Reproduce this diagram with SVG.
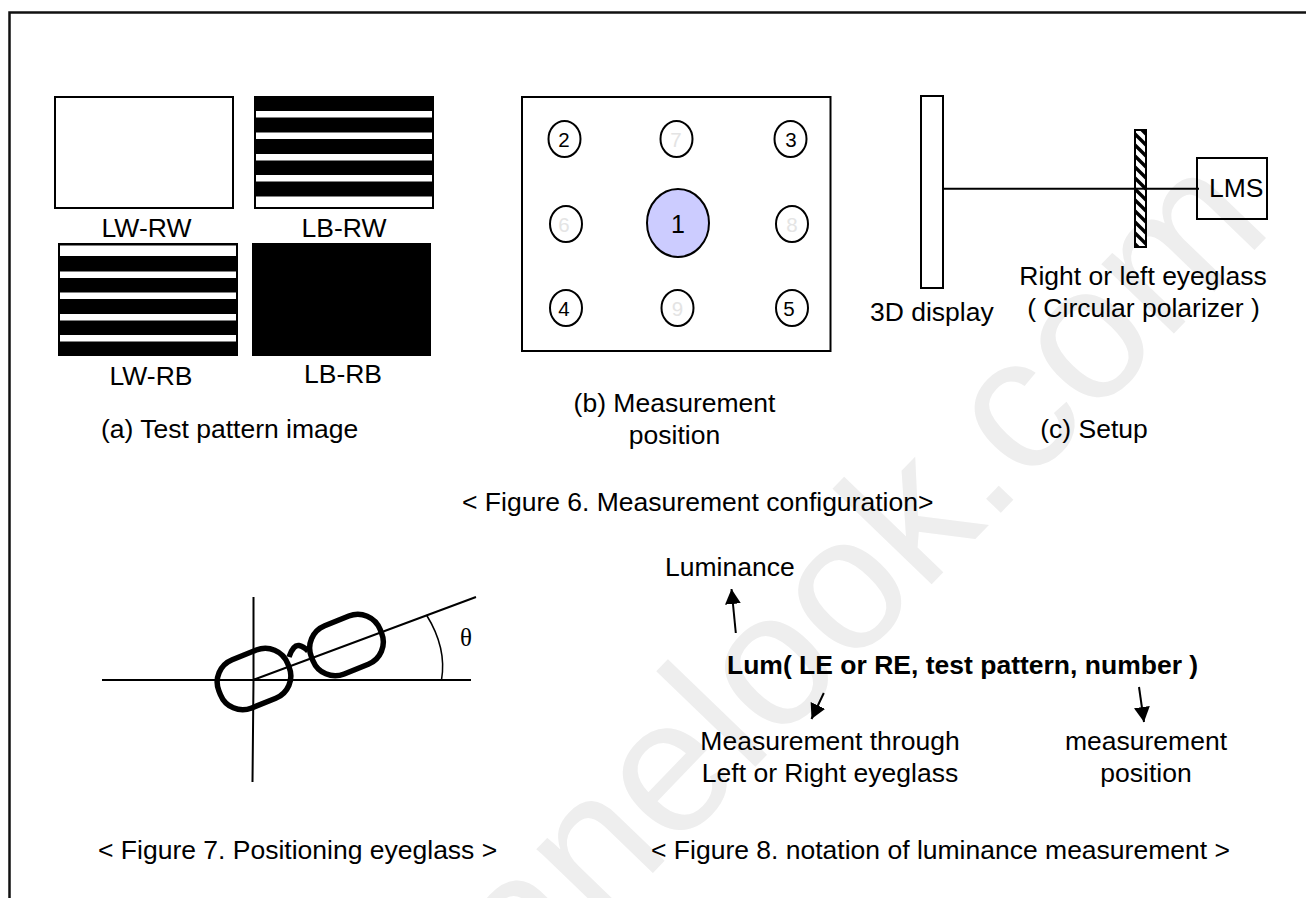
<svg xmlns="http://www.w3.org/2000/svg" width="1306" height="898" viewBox="0 0 1306 898">
<style>
text{font-family:"Liberation Sans",Arial,sans-serif;font-size:26.5px;fill:#000}
.c{text-anchor:middle}
.n{font-size:20.5px}
.ln{fill:none;stroke:#000;stroke-width:2}
.box{fill:none;stroke:#000;stroke-width:2}
.blk{fill:#000;stroke:none}
.wht{fill:#fff;stroke:none}
.dim{fill:#e4e4e4}
.gl{fill:none;stroke:#000;stroke-width:5.5}
.wm{font-size:190px;fill:#eeeeee}
</style>
<defs>
<pattern id="hatch" width="11" height="11" patternUnits="userSpaceOnUse"><rect width="11" height="11" fill="#fff"/><path d="M-2 -2L13 13M-2 9L2 13M9 -2L13 2" stroke="#000" stroke-width="3.4"/></pattern>
<marker id="ah" markerUnits="userSpaceOnUse" markerWidth="16" markerHeight="16" refX="15" refY="8" orient="auto"><path d="M0 0L15 8L0 16Z" fill="#000"/></marker>
</defs>
<rect width="1306" height="898" fill="#fff"/>
<text class="wm" transform="translate(453 1080) rotate(-46)">panelook.com</text>
<path id="frame" fill="none" stroke="#111" stroke-width="2.500" d="M9.500 898V12.500H1306"/>
<g id="lw-rw"><rect class="box" x="55" y="97" width="178" height="111"/><text class="c" x="146.500" y="236.500">LW-RW</text></g>
<g id="lb-rw"><rect class="blk" x="254" y="96" width="180" height="113"/><g class="wht"><rect x="256" y="111" width="176" height="6.500"/><rect x="256" y="132.500" width="176" height="6.500"/><rect x="256" y="154" width="176" height="6.500"/><rect x="256" y="175" width="176" height="6.500"/><rect x="256" y="196.500" width="176" height="10.500"/></g><text class="c" x="344" y="236.500">LB-RW</text></g>
<g id="lw-rb"><rect class="blk" x="58" y="243" width="180" height="113"/><g class="wht"><rect x="60" y="245.500" width="176" height="10.500"/><rect x="60" y="271.500" width="176" height="6.500"/><rect x="60" y="292.500" width="176" height="6.500"/><rect x="60" y="314" width="176" height="6.500"/><rect x="60" y="335" width="176" height="6.500"/></g><text class="c" x="151" y="384.500">LW-RB</text></g>
<g id="lb-rb"><rect class="blk" x="252" y="243" width="179" height="113"/><text class="c" x="343" y="382.500">LB-RB</text></g>
<text id="cap-a" x="101" y="438">(a) Test pattern image</text>
<g id="panel-b"><rect class="box" x="522" y="97" width="308.500" height="254"/></g>
<g id="p2"><ellipse class="box" cx="564.500" cy="139" rx="16" ry="18"/><text class="c n" x="564" y="146.500">2</text></g>
<g id="p7"><ellipse class="box" cx="676.500" cy="139" rx="16" ry="18"/><text class="c n dim" x="676" y="146.500">7</text></g>
<g id="p3"><ellipse class="box" cx="790.500" cy="139" rx="16" ry="18"/><text class="c n" x="791" y="146.500">3</text></g>
<g id="p6"><ellipse class="box" cx="566" cy="224" rx="16" ry="18"/><text class="c n dim" x="564" y="231.500">6</text></g>
<g id="p1"><ellipse cx="678" cy="223" rx="31" ry="34" fill="#ccf" stroke="#000" stroke-width="2"/><text class="c" x="678" y="233" style="font-size:25px">1</text></g>
<g id="p8"><ellipse class="box" cx="792" cy="224" rx="16" ry="18"/><text class="c n dim" x="792" y="231.500">8</text></g>
<g id="p4"><ellipse class="box" cx="566" cy="308" rx="16" ry="18"/><text class="c n" x="564" y="315.500">4</text></g>
<g id="p9"><ellipse class="box" cx="677.500" cy="308" rx="16" ry="18"/><text class="c n dim" x="677.500" y="315.500">9</text></g>
<g id="p5"><ellipse class="box" cx="792" cy="308" rx="16" ry="18"/><text class="c n" x="789" y="315.500">5</text></g>
<text id="cap-b1" class="c" x="674.500" y="412">(b) Measurement</text>
<text id="cap-b2" class="c" x="674.500" y="444">position</text>
<text id="cap-c" class="c" x="1094" y="438">(c) Setup</text>
<g id="display"><rect class="box" x="921" y="96" width="22" height="192"/><text x="870" y="321">3D display</text></g>
<g id="connectors">
<path class="ln" d="M943 188.700H1199"/>
<path class="ln" d="M735.800 633L731.500 589" marker-end="url(#ah)"/>
<path class="ln" d="M823.800 693L811.500 719" marker-end="url(#ah)"/>
<path class="ln" d="M1139 687L1144 722" marker-end="url(#ah)"/>
</g>
<g id="eyeglass"><rect x="1135" y="130" width="11" height="117" fill="url(#hatch)" stroke="#000" stroke-width="2"/><path class="ln" d="M1135 188.700H1146"/><text class="c" x="1143" y="285">Right or left eyeglass</text><text class="c" x="1143.500" y="317">( Circular polarizer )</text></g>
<g id="lms"><rect class="box" x="1197" y="158" width="70" height="61"/><text x="1209" y="197">LMS</text></g>
<text id="cap-6" x="462" y="511">&lt; Figure 6. Measurement configuration&gt;</text>
<g id="fig7">
<path class="ln" d="M102 680H471M253.500 597V680L252.500 782M253 680L476 597"/>
<path d="M426.500 615Q447 648 441.500 680" fill="none" stroke="#000" stroke-width="1.500"/>
<rect class="gl" x="217" y="653" width="74" height="52" rx="24" transform="rotate(-22 254 679)"/>
<rect class="gl" x="309.500" y="619" width="74" height="52" rx="24" transform="rotate(-22 346.500 645)"/>
<path class="gl" d="M289 657C292 648 296 645 299 645.500C302 646 305 648 308 651"/>
<text x="460" y="646" style="font-family:'Liberation Serif',serif;font-size:25px">θ</text>
</g>
<text id="cap-7" x="98" y="859">&lt; Figure 7. Positioning eyeglass &gt;</text>
<text id="lum" x="665" y="576">Luminance</text>
<text id="notation" x="727" y="673.500" style="font-weight:700">Lum( LE or RE, test pattern, number )</text>
<text id="m1" class="c" x="830" y="750">Measurement through</text>
<text id="m2" class="c" x="830" y="782">Left or Right eyeglass</text>
<text id="m3" class="c" x="1146" y="750">measurement</text>
<text id="m4" class="c" x="1146" y="782">position</text>
<text id="cap-8" x="651" y="859">&lt; Figure 8. notation of luminance measurement &gt;</text>
</svg>
